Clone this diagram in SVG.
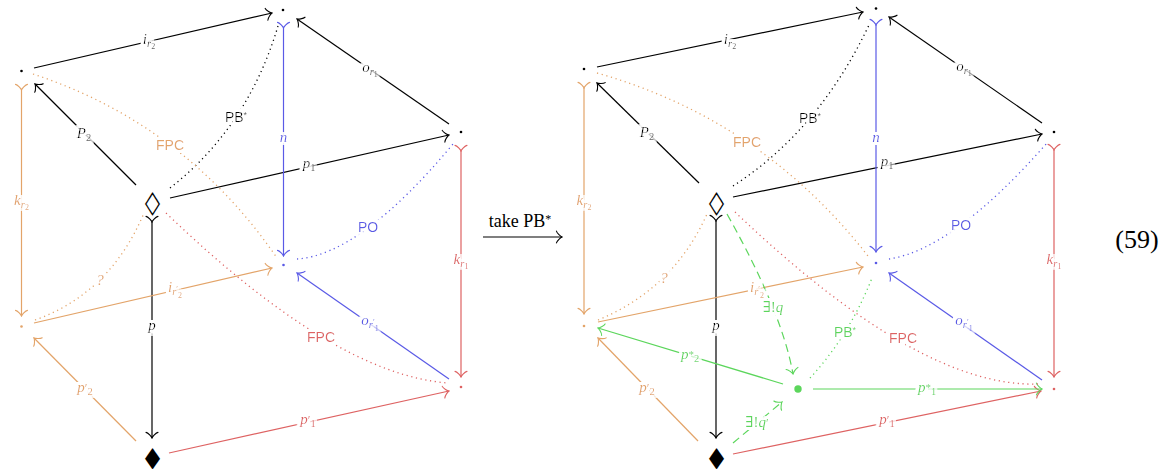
<svg xmlns="http://www.w3.org/2000/svg" width="1173" height="469" viewBox="0 0 1173 469">
<style>
.e{fill:none;stroke-width:1.2}
.k{stroke:#000}.b{stroke:#5A5AE6}.o{stroke:#E3A469}.r{stroke:#DE6262}.g{stroke:#5CD65C}
.dot{stroke-dasharray:1.2 3.6;stroke-width:1.3}
.dash{stroke-dasharray:8 5}
text{text-anchor:middle}
.h{filter:url(#halo)}
.m{font-family:"Liberation Serif","DejaVu Serif",serif;font-style:italic;font-size:15px}
.up{font-style:normal}
.s{font-size:10.5px}
.ss{font-size:8px}
.sf{font-family:"Liberation Sans",Arial,sans-serif;font-size:14px}
.rm{font-family:"Liberation Serif","Times New Roman",serif}
.dm{font-family:"DejaVu Sans",sans-serif;dominant-baseline:central}
.tk{fill:#000}.tb{fill:#5A5AE6}.to{fill:#E3A469}.tr{fill:#DE6262}.tg{fill:#5CD65C}
</style>
<defs>
<filter id="halo" x="-30%" y="-40%" width="160%" height="180%">
<feMorphology in="SourceAlpha" operator="dilate" radius="3" result="d"/>
<feFlood flood-color="#fff"/>
<feComposite in2="d" operator="in"/>
<feMerge><feMergeNode/><feMergeNode in="SourceGraphic"/></feMerge>
</filter>
<marker id="mk" viewBox="-6 -7 8 14" markerWidth="8" markerHeight="14" refX="1.1" refY="0" orient="auto" markerUnits="userSpaceOnUse"><path d="M-4.5,-6 C-4.1,-3.75 0,-0.4 1.1,0 C0,0.4 -4.1,3.75 -4.5,6" fill="none" stroke="#000" stroke-width="1.1" stroke-linecap="round"/></marker>
<marker id="mb" viewBox="-6 -7 8 14" markerWidth="8" markerHeight="14" refX="1.1" refY="0" orient="auto" markerUnits="userSpaceOnUse"><path d="M-4.5,-6 C-4.1,-3.75 0,-0.4 1.1,0 C0,0.4 -4.1,3.75 -4.5,6" fill="none" stroke="#5A5AE6" stroke-width="1.1" stroke-linecap="round"/></marker>
<marker id="mo" viewBox="-6 -7 8 14" markerWidth="8" markerHeight="14" refX="1.1" refY="0" orient="auto" markerUnits="userSpaceOnUse"><path d="M-4.5,-6 C-4.1,-3.75 0,-0.4 1.1,0 C0,0.4 -4.1,3.75 -4.5,6" fill="none" stroke="#E3A469" stroke-width="1.1" stroke-linecap="round"/></marker>
<marker id="mr" viewBox="-6 -7 8 14" markerWidth="8" markerHeight="14" refX="1.1" refY="0" orient="auto" markerUnits="userSpaceOnUse"><path d="M-4.5,-6 C-4.1,-3.75 0,-0.4 1.1,0 C0,0.4 -4.1,3.75 -4.5,6" fill="none" stroke="#DE6262" stroke-width="1.1" stroke-linecap="round"/></marker>
<marker id="mg" viewBox="-6 -7 8 14" markerWidth="8" markerHeight="14" refX="1.1" refY="0" orient="auto" markerUnits="userSpaceOnUse"><path d="M-4.5,-6 C-4.1,-3.75 0,-0.4 1.1,0 C0,0.4 -4.1,3.75 -4.5,6" fill="none" stroke="#5CD65C" stroke-width="1.1" stroke-linecap="round"/></marker>
</defs>

<g id="connectors">
<!-- left cube -->
<path class="e k" d="M34,68 L272,13" marker-end="url(#mk)"/>
<path class="e k" d="M136,185 L35,84" marker-end="url(#mk)"/>
<path class="e k" d="M449,124 L297,19" marker-end="url(#mk)"/>
<path class="e k" d="M170,198 L449,135" marker-end="url(#mk)"/>
<path class="e b" d="M283.5,28 L283.5,256" marker-start="url(#mb)" marker-end="url(#mb)"/>
<path class="e o" d="M21.5,90 L21.5,316" marker-start="url(#mo)" marker-end="url(#mo)"/>
<path class="e r" d="M461,151 L461,377" marker-start="url(#mr)" marker-end="url(#mr)"/>
<path class="e k" d="M152,222 L152,438" marker-start="url(#mk)" marker-end="url(#mk)"/>
<path class="e o" d="M34,323 L272,268" marker-end="url(#mo)"/>
<path class="e o" d="M136,441 L34,338" marker-end="url(#mo)"/>
<path class="e b" d="M449,379 L297,273" marker-end="url(#mb)"/>
<path class="e r" d="M169,453 L449,391" marker-end="url(#mr)"/>
<path class="e k dot" d="M170,188 Q248,127 278,26"/>
<path class="e o dot" d="M33,74 Q185,124 277,258"/>
<path class="e r dot" d="M166,213 Q334,374.5 448,383"/>
<path class="e o dot" d="M35,320 Q110,293.5 144,213"/>
<path class="e b dot" d="M297,259 Q361,254.5 453,144"/>
<!-- labels left -->
<text class="m h tk" x="149" y="44">i<tspan class="s" dy="3">r</tspan><tspan class="ss up" dy="2">2</tspan></text>
<text class="m h tk" x="84" y="138">P<tspan class="s up" dy="3">2</tspan></text>
<text class="m h tk" x="370" y="72">o<tspan class="s" dy="3">r</tspan><tspan class="ss up" dy="2">1</tspan></text>
<text class="m h tk" x="309" y="168">p<tspan class="s up" dy="3">1</tspan></text>
<text class="m h tb" x="283.5" y="142">n</text>
<text class="m h to" x="21.5" y="205">k<tspan class="s" dy="3">r</tspan><tspan class="ss up" dy="2">2</tspan></text>
<text class="m h tr" x="461" y="264">k<tspan class="s" dy="3">r</tspan><tspan class="ss up" dy="2">1</tspan></text>
<text class="m h tk" x="152" y="330">p</text>
<text class="m h to" x="175" y="292">i<tspan class="s" dy="3">r</tspan><tspan class="ss up" dy="-3">′</tspan><tspan class="ss up" dy="6">2</tspan></text>
<text class="m h to" x="85" y="392">p<tspan class="up" font-size="12">′</tspan><tspan class="s up" dy="3">2</tspan></text>
<text class="m h tb" x="370" y="325">o<tspan class="s" dy="3">r</tspan><tspan class="ss up" dy="-3">′</tspan><tspan class="ss up" dy="6">1</tspan></text>
<text class="m h tr" x="308" y="424">p<tspan class="up" font-size="12">′</tspan><tspan class="s up" dy="3">1</tspan></text>
<text class="sf h tk" x="236" y="122">PB<tspan font-size="9" dy="-4">*</tspan></text>
<text class="sf h to" x="170" y="150">FPC</text>
<text class="sf h tb" x="368" y="232">PO</text>
<text class="sf h tr" x="321" y="342">FPC</text>
<text class="m h to" x="100" y="285" font-size="14">?</text>

<!-- take PB* -->
<text class="rm tk" x="520" y="227" font-size="18">take PB<tspan font-size="12" dy="-4">*</tspan></text>
<path class="e k" d="M483,237 L562,237" marker-end="url(#mk)"/>

<!-- right cube -->
<path class="e k" d="M597,67 L863,12" marker-end="url(#mk)"/>
<path class="e k" d="M699,183 L597,83" marker-end="url(#mk)"/>
<path class="e k" d="M1042,123 L889,17" marker-end="url(#mk)"/>
<path class="e k" d="M733,197 L1042,134" marker-end="url(#mk)"/>
<path class="e b" d="M876,25 L876,252" marker-start="url(#mb)" marker-end="url(#mb)"/>
<path class="e o" d="M584,88 L584,314" marker-start="url(#mo)" marker-end="url(#mo)"/>
<path class="e r" d="M1054,150 L1054,377" marker-start="url(#mr)" marker-end="url(#mr)"/>
<path class="e k" d="M716,221 L716,438" marker-start="url(#mk)" marker-end="url(#mk)"/>
<path class="e o" d="M598,322 L863,267" marker-end="url(#mo)"/>
<path class="e o" d="M698,441 L598,338" marker-end="url(#mo)"/>
<path class="e b" d="M1042,380 L889,273" marker-end="url(#mb)"/>
<path class="e r" d="M733,454 L1041,391" marker-end="url(#mr)"/>
<path class="e g" d="M783,384 L598,328" marker-end="url(#mg)"/>
<path class="e g" d="M813,389 L1042,389" marker-end="url(#mg)"/>
<path class="e g dash" d="M727,214 Q782,312 793,374" marker-end="url(#mg)"/>
<path class="e g dash" d="M733,443 L782,402" marker-end="url(#mg)"/>
<path class="e k dot" d="M733,186 Q819,130.5 869,25"/>
<path class="e o dot" d="M597,73 Q761.5,119.5 868,256"/>
<path class="e r dot" d="M735,212 Q919.5,388 1038,384"/>
<path class="e o dot" d="M598,320 Q673.5,289 707,214"/>
<path class="e b dot" d="M889,259 Q954,249 1047,143"/>
<path class="e g dot" d="M810,378 Q849,336 872,278"/>
<!-- labels right -->
<text class="m h tk" x="730" y="44">i<tspan class="s" dy="3">r</tspan><tspan class="ss up" dy="2">2</tspan></text>
<text class="m h tk" x="647" y="137">P<tspan class="s up" dy="3">2</tspan></text>
<text class="m h tk" x="964" y="71">o<tspan class="s" dy="3">r</tspan><tspan class="ss up" dy="2">1</tspan></text>
<text class="m h tk" x="887" y="166">p<tspan class="s up" dy="3">1</tspan></text>
<text class="m h tb" x="876" y="142">n</text>
<text class="m h to" x="584" y="205">k<tspan class="s" dy="3">r</tspan><tspan class="ss up" dy="2">2</tspan></text>
<text class="m h tr" x="1054" y="264">k<tspan class="s" dy="3">r</tspan><tspan class="ss up" dy="2">1</tspan></text>
<text class="m h tk" x="716" y="330">p</text>
<text class="m h to" x="757" y="292">i<tspan class="s" dy="3">r</tspan><tspan class="ss up" dy="-3">′</tspan><tspan class="ss up" dy="6">2</tspan></text>
<text class="m h to" x="647" y="392">p<tspan class="up" font-size="12">′</tspan><tspan class="s up" dy="3">2</tspan></text>
<text class="m h tb" x="964" y="325">o<tspan class="s" dy="3">r</tspan><tspan class="ss up" dy="-3">′</tspan><tspan class="ss up" dy="6">1</tspan></text>
<text class="m h tr" x="887" y="424">p<tspan class="up" font-size="12">′</tspan><tspan class="s up" dy="3">1</tspan></text>
<text class="m h tg" x="690" y="359">p<tspan class="up" font-size="11" dy="-1">*</tspan><tspan class="s up" dy="4">2</tspan></text>
<text class="m h tg" x="927" y="392">p<tspan class="up" font-size="11" dy="-1">*</tspan><tspan class="s up" dy="4">1</tspan></text>
<text class="m h tg" x="773" y="312"><tspan class="up">∃!</tspan>q</text>
<text class="m h tg" x="757" y="427"><tspan class="up">∃!</tspan>q<tspan class="up" font-size="12">′</tspan></text>
<text class="sf h tk" x="810" y="123">PB<tspan font-size="9" dy="-4">*</tspan></text>
<text class="sf h to" x="747" y="147">FPC</text>
<text class="sf h tb" x="961" y="230">PO</text>
<text class="sf h tr" x="903" y="343">FPC</text>
<text class="sf h tg" x="845" y="337">PB<tspan font-size="9" dy="-4">*</tspan></text>
<text class="m h to" x="664" y="283" font-size="14">?</text>
</g>

<!-- left nodes -->
<g id="L-A"><circle cx="21.5" cy="71" r="1.3" fill="#000"/></g>
<g id="L-B"><circle cx="283" cy="10" r="1.3" fill="#000"/></g>
<g id="L-C"><circle cx="461" cy="132" r="1.3" fill="#000"/></g>
<g id="L-D"><text class="dm tk" font-size="31" transform="translate(152.5,201) scale(0.63,1)">◇</text></g>
<g id="L-E"><circle cx="283.5" cy="265" r="1.3" fill="#5A5AE6"/></g>
<g id="L-F"><circle cx="21.5" cy="326.5" r="1.3" fill="#E3A469"/></g>
<g id="L-G"><text class="dm tk" font-size="28" transform="translate(152.5,456.5) scale(0.7,1)">◆</text></g>
<g id="L-H"><circle cx="461" cy="387" r="1.3" fill="#DE6262"/></g>
<!-- right nodes -->
<g id="R-A"><circle cx="584" cy="69" r="1.3" fill="#000"/></g>
<g id="R-B"><circle cx="876" cy="8.5" r="1.3" fill="#000"/></g>
<g id="R-C"><circle cx="1054" cy="132" r="1.3" fill="#000"/></g>
<g id="R-D"><text class="dm tk" font-size="31" transform="translate(716.5,201) scale(0.63,1)">◇</text></g>
<g id="R-E"><circle cx="876" cy="263" r="1.3" fill="#5A5AE6"/></g>
<g id="R-F"><circle cx="584" cy="326" r="1.3" fill="#E3A469"/></g>
<g id="R-G"><text class="dm tk" font-size="28" transform="translate(716.5,456.5) scale(0.7,1)">◆</text></g>
<g id="R-H"><circle cx="1054" cy="389" r="1.3" fill="#DE6262"/></g>
<g id="R-P"><circle cx="798" cy="389" r="3.7" fill="#5CD65C"/></g>

<text class="rm tk" x="1137" y="248" font-size="26">(59)</text>
</svg>
